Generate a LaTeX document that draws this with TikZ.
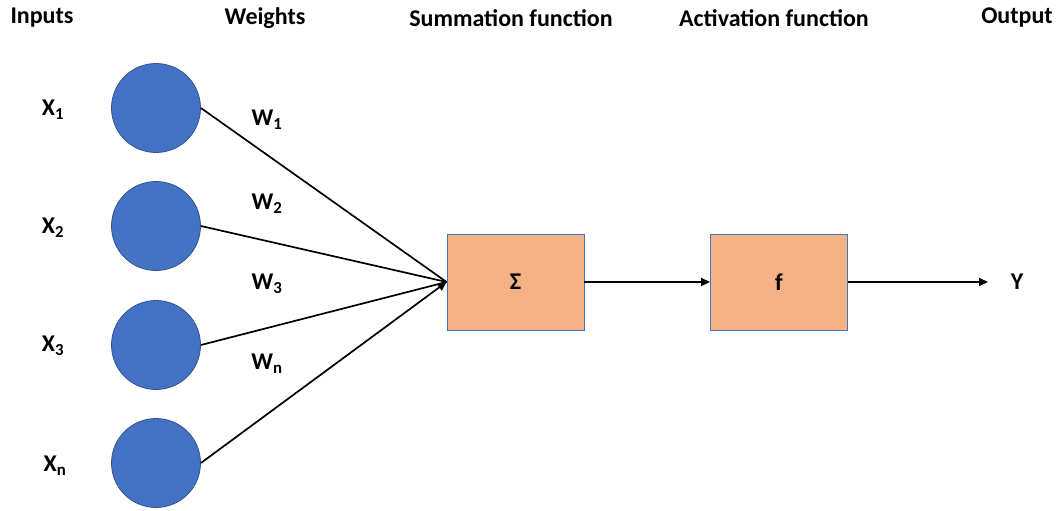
\documentclass[tikz,border=0pt]{standalone}
\usepackage{fontspec}
\setmainfont{Carlito}
\usetikzlibrary{arrows.meta}
\definecolor{nodeblue}{HTML}{4472C4}
\definecolor{nodeedge}{HTML}{2F528F}
\definecolor{boxfill}{HTML}{F4B183}
\begin{document}
\begin{tikzpicture}[x=1pt,y=-1pt,
  every node/.style={font=\fontsize{24}{28}\selectfont\bfseries},
  neuron/.style={circle,fill=nodeblue,draw=nodeedge,line width=0.8pt,minimum size=89pt,inner sep=0pt},
  funcbox/.style={rectangle,fill=boxfill,draw=nodeblue,line width=0.9pt,minimum width=137pt,minimum height=96pt,inner sep=0pt},
  link/.style={draw=black,line width=1.7pt},
  arrowlink/.style={link,-{Triangle[length=9pt,width=8pt]}}]
  \useasboundingbox (0,0) rectangle (1060,511);

  % column headings
  \node (hin)  at (42,18)   {Inputs};
  \node (hw)   at (265,18)  {Weights};
  \node (hsum) at (511,18)  {Summation function};
  \node (hact) at (774,18)  {Activation function};
  \node (hout) at (1017,18) {Output};

  % input neurons and their labels
  \node[neuron] (n1) at (156,108) {};
  \node[neuron] (n2) at (156,226) {};
  \node[neuron] (n3) at (156,345) {};
  \node[neuron] (n4) at (156,463) {};
  \node (x1) at (53,110) {X\textsubscript{1}};
  \node (x2) at (53,228) {X\textsubscript{2}};
  \node (x3) at (53,346) {X\textsubscript{3}};
  \node (x4) at (55,466) {X\textsubscript{n}};

  % weight labels
  \node (w1) at (267,120) {W\textsubscript{1}};
  \node (w2) at (267,204) {W\textsubscript{2}};
  \node (w3) at (267,284) {W\textsubscript{3}};
  \node (w4) at (267,364) {W\textsubscript{n}};

  % summation and activation
  \node[funcbox] (sum) at (515.5,282) {Σ};
  \node[funcbox] (act) at (779,282) {f};
  \node (y) at (1017,282) {Y};
  \coordinate (yend) at (988,282);

  % connections
  \draw[link] (n1.east) -- (sum.west);
  \draw[link] (n2.east) -- (sum.west);
  \draw[link] (n3.east) -- (sum.west);
  \draw[arrowlink] (n4.east) -- (sum.west);
  \draw[arrowlink] (sum.east) -- (act.west);
  \draw[arrowlink] (act.east) -- (yend);
\end{tikzpicture}
\end{document}
